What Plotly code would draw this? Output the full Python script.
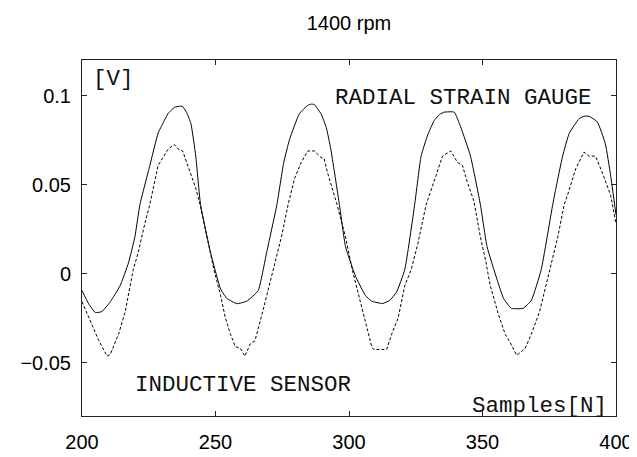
import plotly.graph_objects as go

# Radial strain gauge (solid)
gauge_x = [200, 202.5, 205, 207.5, 210.6, 214.3, 217.4, 219.8, 221.7, 225.4, 228.5, 230.5, 232.2, 234.6, 236.5, 237.6,
           239.2, 240.8, 242.6, 244.4, 248.2, 251.9, 254.3, 258, 261.7, 266, 269.1, 273, 275.5, 277.7, 281.4, 284.5, 285.8,
           287, 289.5, 291.5, 293.2, 296.4, 298.7, 302.4, 306.1, 308.5, 312.6, 315.3, 317.8, 320.9, 324.6, 327, 329.5, 331.9,
           334, 335.7, 339.4, 341.8, 345.5, 349.2, 351.7, 355.4, 357.9, 360.8, 365.2, 368.3, 372, 376.3, 377.5, 380, 382.5,
           386.2, 388, 389.9, 393, 396, 398, 400]
gauge_y = [-0.0095, -0.017, -0.0219, -0.0213, -0.0158, -0.0067, 0.006, 0.0206, 0.0388, 0.0607, 0.0789, 0.085, 0.0898, 0.0934, 0.094, 0.094,
           0.0905, 0.0843, 0.066, 0.0388, 0.0115, -0.0086, -0.014, -0.0169, -0.0155, -0.0095, 0.0115, 0.0388, 0.062, 0.0752, 0.0898, 0.0945, 0.0952,
           0.095, 0.0898, 0.082, 0.0698, 0.0388, 0.0151, -0.0013, -0.0122, -0.0155, -0.0168, -0.015, -0.0104, 0.0023, 0.0388, 0.066, 0.078, 0.086,
           0.0895, 0.0907, 0.0907, 0.0825, 0.066, 0.0388, 0.0151, -0.0031, -0.014, -0.0195, -0.0195, -0.015, 0.0023, 0.0388, 0.048, 0.066, 0.0789,
           0.087, 0.0884, 0.0884, 0.0852, 0.073, 0.055, 0.033]

# Inductive sensor (dashed)
sensor_x = [200, 202.6, 206.3, 209.4, 210.6, 213.7, 216.2, 219.2, 221, 223.5, 225.4, 228.5, 232.2, 234.6, 235.9,
            237.7, 240.2, 242.6, 244.2, 245.7, 249.4, 251.9, 253.7, 255.6, 257.4, 259.3, 261, 263, 264.8, 267.9,
            271.6, 274.7, 277.2, 279.6, 282.1, 284.6, 287, 289.5, 290.7, 291.9, 295.3, 298.7, 301.2, 303.6, 306.1,
            308.5, 309.2, 314.1, 316, 318.4, 320.9, 323.3, 325.8, 328.9, 332.6, 335, 338.1, 340.6, 342.5, 344.3,
            346.8, 349.2, 351.1, 352.9, 356, 358.5, 360.3, 362.8, 365.9, 368.3, 371.4, 375.1, 378.2, 380.6, 381.9,
            384.9, 388, 389.9, 392.3, 394.8, 396.7, 398, 400]
sensor_y = [-0.0158, -0.025, -0.0377, -0.0464, -0.0454, -0.034, -0.0213, 0.0023, 0.0115, 0.0279, 0.0388, 0.0607, 0.0698, 0.0725, 0.0701,
            0.0689, 0.0588, 0.048, 0.0388, 0.028, 0.0023, -0.0122, -0.025, -0.034, -0.041, -0.042, -0.0464, -0.0395, -0.0377, -0.02,
            0.0023, 0.0206, 0.0388, 0.0534, 0.0625, 0.0689, 0.0689, 0.0652, 0.0645, 0.057, 0.04, 0.0206, 0.0023, -0.0122, -0.0268,
            -0.041, -0.0426, -0.0426, -0.034, -0.025, -0.0067, 0.0023, 0.0169, 0.0388, 0.0552, 0.066, 0.0689, 0.0625, 0.0607, 0.0515,
            0.0406, 0.0206, 0.0078, -0.0067, -0.0231, -0.034, -0.0386, -0.0459, -0.0422, -0.034, -0.0213, 0.0023, 0.0206, 0.0388, 0.0443,
            0.0588, 0.0683, 0.066, 0.066, 0.057, 0.0497, 0.044, 0.028]

x_ticks = [200, 250, 300, 350, 400]
y_ticks = [-0.05, 0, 0.05, 0.1]
y_tick_text = ["\u22120.05", "0", "0.05", "0.1"]

title_text = "1400 rpm"
label_unit = "[V]"
label_gauge = "RADIAL STRAIN GAUGE"
label_sensor = "INDUCTIVE SENSOR"
label_samples = "Samples[N]"

fig = go.Figure()
fig.add_trace(go.Scatter(x=gauge_x, y=gauge_y, mode="lines",
                         line=dict(color="black", width=1, shape="spline", smoothing=0.4), showlegend=False))
fig.add_trace(go.Scatter(x=sensor_x, y=sensor_y, mode="lines",
                         line=dict(color="black", width=1, dash="3px,2px"), showlegend=False))

mono = dict(family="Liberation Mono, Courier New, monospace", size=22.5, color="#111")
fig.add_annotation(x=203.2, y=0.1093, text=label_unit, showarrow=False, xanchor="left", yanchor="middle", font=mono)
fig.add_annotation(x=294, y=0.0989, text=label_gauge, showarrow=False, xanchor="left", yanchor="middle", font=mono)
fig.add_annotation(x=219.1, y=-0.0628, text=label_sensor, showarrow=False, xanchor="left", yanchor="middle", font=mono)
fig.add_annotation(x=397.5, y=-0.0745, text=label_samples, showarrow=False, xanchor="right", yanchor="middle", font=mono)

axis_common = dict(showline=True, linecolor="#222", linewidth=1, mirror="ticks",
                   ticks="inside", ticklen=5, tickcolor="#222", showgrid=False, zeroline=False,
                   tickfont=dict(family="Liberation Sans, Arial, sans-serif", size=20, color="black"))

fig.update_layout(
    width=637, height=457,
    margin=dict(l=73, r=23, t=52, b=38),
    paper_bgcolor="white", plot_bgcolor="white",
    title=dict(text=title_text, x=0.5, xref="paper", y=0.968, yanchor="middle",
               font=dict(family="Liberation Sans, Arial, sans-serif", size=20, color="black")),
    xaxis=dict(range=[200, 400], tickvals=x_ticks, ticktext=[str(v) for v in x_ticks],
               ticklabelstandoff=8, **axis_common),
    yaxis=dict(range=[-0.08, 0.12], tickvals=y_ticks, ticktext=y_tick_text,
               ticklabelstandoff=6, **axis_common),
)

fig.write_html("out.html")
